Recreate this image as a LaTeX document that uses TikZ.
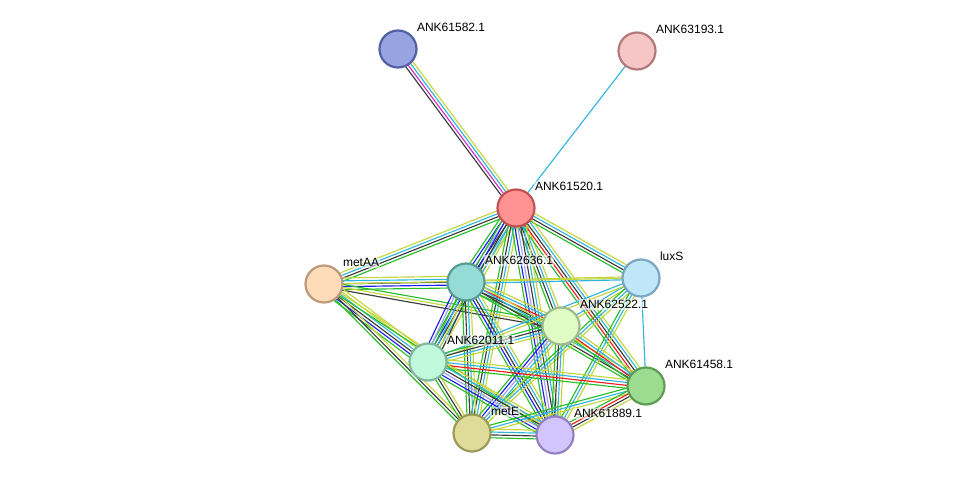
\documentclass[tikz,border=0pt]{standalone}
\usepackage{fontspec}
\setmainfont{Liberation Sans}
\usetikzlibrary{calc, backgrounds}

% evidence colours
\definecolor{txtm}{RGB}{196,214,60}
\definecolor{dbase}{RGB}{50,182,222}
\definecolor{exper}{RGB}{214,44,204}
\definecolor{coexp}{RGB}{60,60,60}
\definecolor{neigh}{RGB}{40,190,40}
\definecolor{fusn}{RGB}{240,30,30}
\definecolor{cooc}{RGB}{30,30,240}
\definecolor{homol}{RGB}{160,160,250}
% node colours (fill / rim)
\definecolor{f61582}{RGB}{152,164,224}\definecolor{r61582}{RGB}{82,96,164}
\definecolor{f63193}{RGB}{246,198,198}\definecolor{r63193}{RGB}{178,122,122}
\definecolor{f61520}{RGB}{255,146,146}\definecolor{r61520}{RGB}{196,82,82}
\definecolor{fmetAA}{RGB}{253,219,184}\definecolor{rmetAA}{RGB}{186,154,122}
\definecolor{f62636}{RGB}{150,220,214}\definecolor{r62636}{RGB}{90,154,148}
\definecolor{fluxS}{RGB}{192,230,250}\definecolor{rluxS}{RGB}{122,166,194}
\definecolor{f62522}{RGB}{224,252,196}\definecolor{r62522}{RGB}{160,186,140}
\definecolor{f62011}{RGB}{192,248,220}\definecolor{r62011}{RGB}{128,186,156}
\definecolor{f61458}{RGB}{156,220,144}\definecolor{r61458}{RGB}{92,156,84}
\definecolor{fmetE}{RGB}{222,220,152}\definecolor{rmetE}{RGB}{156,154,88}
\definecolor{f61889}{RGB}{210,196,252}\definecolor{r61889}{RGB}{146,128,194}

% one line per evidence channel, side by side
\newcommand\lnk[3]{%
  \foreach \c [count=\i] in {#3} {\xdef\nlin{\i}}%
  \foreach \c [count=\i] in {#3} {%
    \pgfmathsetmacro\off{(\i-(\nlin+1)/2)*2.9}%
    \draw[evline, \c] ($(#1)!\off pt!90:(#2)$) -- ($(#2)!\off pt!-90:(#1)$);
  }}

\begin{document}
\begin{tikzpicture}[
	x=1pt, y=-1pt,
	prot/.style = {circle, draw=r#1, fill=f#1, line width=2.2pt,
		minimum size=37pt, inner sep=0pt},
	lbl/.style = {anchor=south west, inner sep=1pt, xshift=4pt, yshift=2pt,
		fill=white, fill opacity=0.55, text opacity=1,
		font=\fontsize{12}{14}\selectfont, text=black},
	evline/.style = {line width=1.15pt}
	]
	\useasboundingbox (0,0) rectangle (975,481);
%
	\node[prot=61582, label={[lbl]north east:ANK61582.1}] (p61582) at (398,49) {};
	\node[prot=63193, label={[lbl]north east:ANK63193.1}] (p63193) at (637,51) {};
	\node[prot=61520, label={[lbl]north east:ANK61520.1}] (p61520) at (516,208) {};
	\node[prot=metAA, label={[lbl]north east:metAA}] (metAA) at (324,284) {};
	\node[prot=62636, label={[lbl]north east:ANK62636.1}] (p62636) at (466,282) {};
	\node[prot=luxS, label={[lbl]north east:luxS}] (luxS) at (641,278) {};
	\node[prot=62522, label={[lbl]north east:ANK62522.1}] (p62522) at (561,326) {};
	\node[prot=62011, label={[lbl]north east:ANK62011.1}] (p62011) at (428,362) {};
	\node[prot=61458, label={[lbl]north east:ANK61458.1}] (p61458) at (646,386) {};
	\node[prot=metE, label={[lbl]north east:metE}] (metE) at (472,433) {};
	\node[prot=61889, label={[lbl]north east:ANK61889.1}] (p61889) at (555,435) {};
%
	\begin{scope}[on background layer]
		\lnk{p61582}{p61520}{coexp,exper,dbase,txtm}
		\lnk{p63193}{p61520}{dbase}
		\lnk{p61520}{metAA}{txtm,dbase,coexp,neigh}
		\lnk{p61520}{p62636}{neigh,cooc,homol,coexp,dbase,txtm}
		\lnk{p61520}{luxS}{neigh,coexp,dbase,txtm}
		\lnk{p61520}{p62522}{neigh,coexp,dbase,txtm}
		\lnk{p61520}{p61458}{neigh,fusn,coexp,dbase,txtm}
		\lnk{p61520}{p62011}{neigh,cooc,coexp,dbase,txtm}
		\lnk{p61520}{metE}{neigh,coexp,dbase,txtm}
		\lnk{p61520}{p61889}{neigh,cooc,homol,coexp,dbase,txtm}
		\lnk{metAA}{p62636}{neigh,cooc,coexp,dbase,txtm}
		\lnk{metAA}{luxS}{txtm}
		\lnk{metAA}{p62522}{coexp,txtm,neigh}
		\lnk{metAA}{p62011}{neigh,cooc,coexp,dbase,txtm,txtm}
		\lnk{metAA}{metE}{neigh,coexp,txtm}
		\lnk{metAA}{p61889}{neigh,txtm}
		\lnk{p62636}{luxS}{dbase,txtm}
		\lnk{p62636}{p62522}{neigh,coexp,fusn,dbase,txtm}
		\lnk{p62636}{p62011}{cooc,homol,neigh,dbase,txtm,coexp}
		\lnk{p62636}{metE}{neigh,coexp,dbase,txtm}
		\lnk{p62636}{p61889}{neigh,cooc,coexp,dbase,txtm}
		\lnk{p62636}{p61458}{neigh,coexp,dbase,txtm}
		\lnk{luxS}{p62522}{dbase,txtm}
		\lnk{luxS}{p61458}{dbase}
		\lnk{luxS}{p62011}{dbase,txtm}
		\lnk{luxS}{metE}{neigh,dbase,txtm}
		\lnk{luxS}{p61889}{neigh,dbase,txtm}
		\lnk{p62522}{p62011}{neigh,coexp,dbase,txtm}
		\lnk{p62522}{p61458}{neigh,fusn,dbase,txtm}
		\lnk{p62522}{metE}{neigh,cooc,homol,dbase,txtm}
		\lnk{p62522}{p61889}{neigh,coexp,dbase,txtm}
		\lnk{p62011}{p61458}{neigh,fusn,dbase,txtm}
		\lnk{p62011}{metE}{neigh,coexp,txtm}
		\lnk{p62011}{p61889}{neigh,cooc,homol,coexp,dbase,txtm}
		\lnk{p61458}{metE}{neigh,dbase,txtm}
		\lnk{p61458}{p61889}{neigh,fusn,coexp,txtm}
		\lnk{metE}{p61889}{neigh,coexp,dbase,txtm}
	\end{scope}
\end{tikzpicture}
\end{document}
